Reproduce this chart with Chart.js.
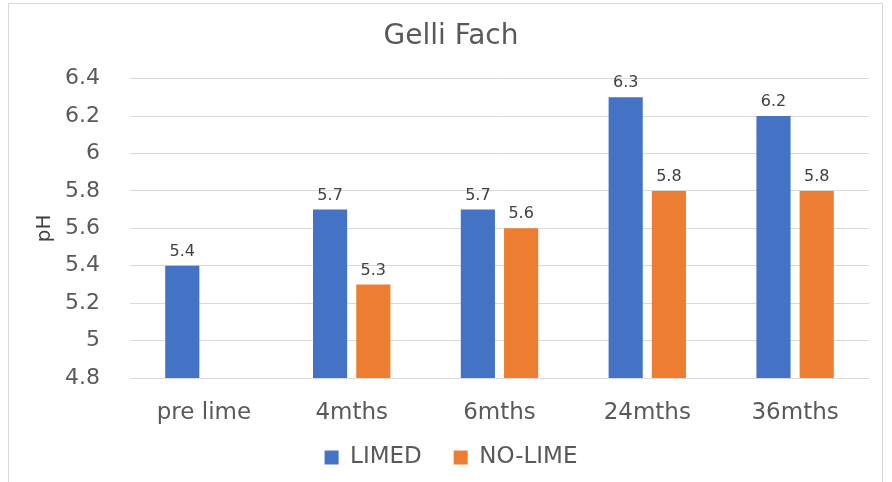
<!DOCTYPE html>
<html>
<head>
<meta charset="utf-8">
<script src="https://cdn.jsdelivr.net/npm/chart.js@4/dist/chart.umd.min.js"></script>
<style>
  html, body { margin: 0; padding: 0; background: #fff; }
  #wrap { position: relative; width: 892px; height: 482px; overflow: hidden; }
  #frame { position: absolute; left: 8px; top: 3px; width: 875px; height: 500px; border: 1px solid #d9d9d9; box-sizing: border-box; }
  canvas { position: absolute; left: 0; top: 0; }
</style>
</head>
<body>
<div id="wrap">
  <div id="frame"></div>
  <canvas id="c" width="892" height="482"></canvas>
</div>
<script>
const categories = ["pre lime", "4mths", "6mths", "24mths", "36mths"];
const limed = [5.4, 5.7, 5.7, 6.3, 6.2];
const noLime = [null, 5.3, 5.6, 5.8, 5.8];
const yTicks = [4.8, 5, 5.2, 5.4, 5.6, 5.8, 6, 6.2, 6.4];

const FONT = "'DejaVu Sans', sans-serif";

const labelPlugin = {
  id: 'barLabels',
  afterDatasetsDraw(chart) {
    const ctx = chart.ctx;
    ctx.save();
    ctx.font = "16px " + FONT;
    ctx.fillStyle = "#404040";
    ctx.textAlign = "center";
    ctx.textBaseline = "bottom";
    chart.data.datasets.forEach((ds, i) => {
      const meta = chart.getDatasetMeta(i);
      meta.data.forEach((bar, j) => {
        const v = ds.data[j];
        if (v === null || v === undefined) return;
        ctx.fillText(String(v), bar.x, bar.y - 6);
      });
    });
    ctx.restore();
  }
};

new Chart(document.getElementById('c'), {
  type: 'bar',
  data: {
    labels: categories,
    datasets: [
      { label: 'LIMED', data: limed, backgroundColor: '#4472C4', barPercentage: 0.79, categoryPercentage: 0.585 },
      { label: 'NO-LIME', data: noLime, backgroundColor: '#ED7D31', barPercentage: 0.79, categoryPercentage: 0.585 }
    ]
  },
  options: {
    responsive: false,
    animation: false,
    devicePixelRatio: 1,
    layout: { padding: { left: 33, right: 23, top: 0, bottom: 3 } },
    plugins: {
      title: {
        display: true, text: 'Gelli Fach', color: '#595959',
        font: { family: FONT, size: 28, weight: 'normal' },
        padding: { top: 20, bottom: 25 }
      },
      legend: {
        position: 'bottom',
        labels: {
          color: '#595959', font: { family: FONT, size: 23 },
          boxWidth: 14, boxHeight: 14, padding: 10,
          generateLabels(chart) {
            const items = Chart.defaults.plugins.legend.labels.generateLabels(chart);
            items.forEach((it, i) => { if (i < items.length - 1) it.text = it.text + '   '; });
            return items;
          }
        }
      },
      tooltip: { enabled: false }
    },
    scales: {
      x: {
        grid: { display: false },
        border: { display: false },
        ticks: { color: '#595959', font: { family: FONT, size: 23 }, padding: 13 },
        afterFit(s) { s.height = 58; }
      },
      y: {
        min: 4.8, max: 6.4,
        afterBuildTicks(s) { s.ticks = yTicks.map(v => ({ value: v })); },
        grid: { color: '#d9d9d9', drawTicks: false },
        border: { display: false },
        ticks: { color: '#595959', font: { family: FONT, size: 22 }, padding: 30,
          callback: v => String(Math.round(v * 10) / 10) },
        title: { display: true, text: 'pH', color: '#404040', font: { family: FONT, size: 20 }, padding: 0 },
        afterFit(s) { s.width = 97; }
      }
    }
  },
  plugins: [labelPlugin]
});
</script>
</body>
</html>
